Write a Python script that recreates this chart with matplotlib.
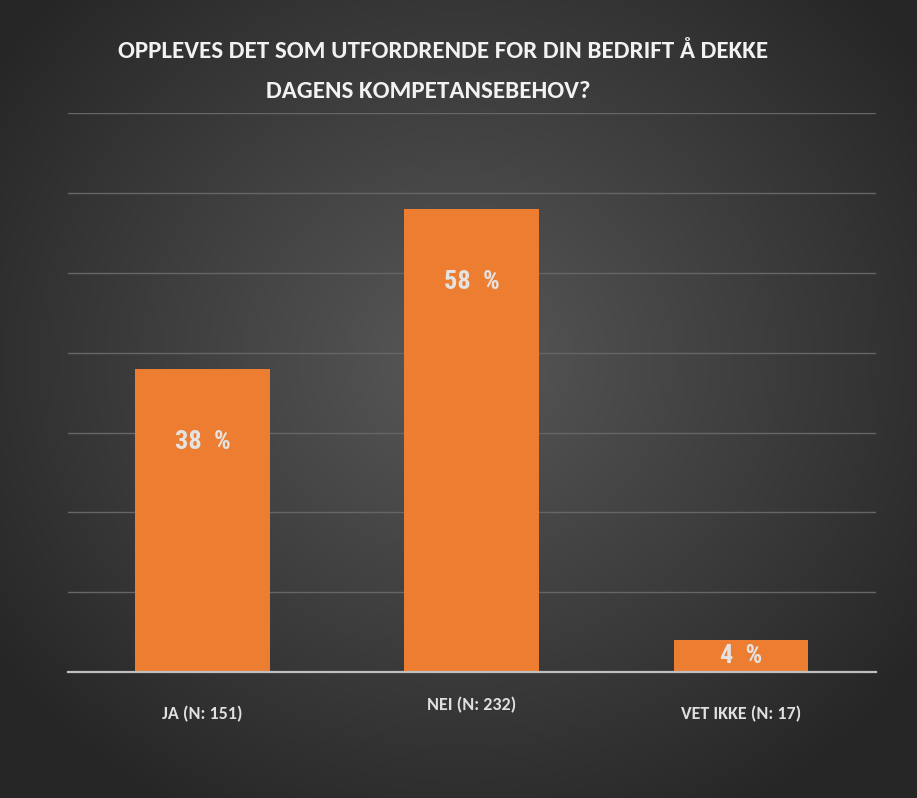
import numpy as np
import matplotlib
matplotlib.use("Agg")
import matplotlib.pyplot as plt

categories = ["JA (N: 151)", "NEI (N: 232)", "VET IKKE (N: 17)"]
values = [38, 58, 4]
value_labels = ["38  %", "58  %", "4  %"]
title_lines = ["OPPLEVES DET SOM UTFORDRENDE FOR DIN BEDRIFT Å DEKKE",
               "DAGENS KOMPETANSEBEHOV?"]

plt.rcParams['font.family'] = ["Carlito", "DejaVu Sans"]

fig = plt.figure(figsize=(9.17, 7.98), dpi=100)

# radial gradient background
bg = fig.add_axes([0, 0, 1, 1])
h, w = 798, 917
yy, xx = np.mgrid[0:h, 0:w]
cx, cy = w * 0.5, h * 0.45
r = np.sqrt(((xx - cx) / (w * 0.62)) ** 2 + ((yy - cy) / (h * 0.66)) ** 2)
r = np.clip(r, 0, 1)
c0 = np.array([0x58, 0x58, 0x58]) / 255
c1 = np.array([0x26, 0x26, 0x26]) / 255
img = c0[None, None, :] * (1 - r[..., None]) + c1[None, None, :] * r[..., None]
bg.imshow(img, aspect="auto", extent=[0, 1, 0, 1])
bg.axis("off")

ax = fig.add_axes([0.074, 0.158, 0.881, 0.7])
ax.patch.set_alpha(0)
x = np.arange(len(categories))
ax.bar(x, values, width=0.5, color="#ED7D31", zorder=3)
ax.set_xlim(-0.5, 2.5)
ax.set_ylim(0, 70)
ax.set_yticks(np.arange(10, 71, 10))
ax.yaxis.grid(True, color="#666666", linewidth=1.0, zorder=0)
ax.tick_params(axis="y", length=0, labelleft=False)
ax.tick_params(axis="x", length=0, labelbottom=False)
for s in ["top", "right", "left"]:
    ax.spines[s].set_visible(False)
ax.spines["bottom"].set_color("#bfbfbf")
ax.spines["bottom"].set_linewidth(1.6)
ax.spines["bottom"].set_zorder(4)

for xi, v, lab in zip(x, values, value_labels):
    yv = v - 9.2 if v > 10 else v / 2
    ax.text(xi, yv, lab, ha="center", va="center", color="#e3e3e3",
            fontsize=19, fontweight="bold", family=["Roboto Condensed", "DejaVu Sans"],
            zorder=5)

for xi, lab in zip(x, categories):
    dy = -33 if xi == 1 else -42
    ax.annotate(lab, (xi, 0), xytext=(0, dy), textcoords="offset pixels",
                ha="center", va="center", color="#e0e0e0", fontsize=13,
                fontweight="bold")

fig.text(0.483, 0.935, title_lines[0], ha="center", va="center", color="#f2f2f2",
         fontsize=18, fontweight="bold")
fig.text(0.467, 0.885, title_lines[1], ha="center", va="center", color="#f2f2f2",
         fontsize=18, fontweight="bold")

fig.savefig("out.png", dpi=100)
